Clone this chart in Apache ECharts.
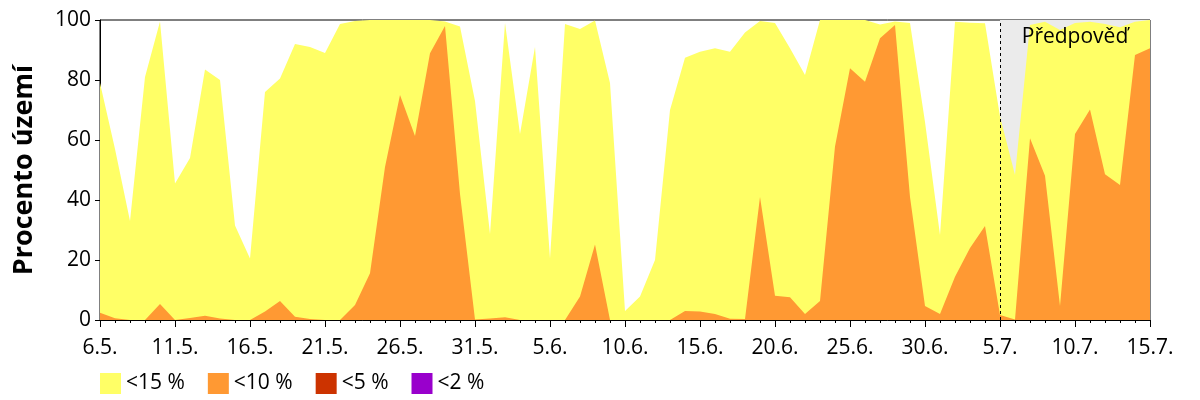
<!DOCTYPE html>
<html>
<head>
<meta charset="utf-8">
<script src="https://cdn.jsdelivr.net/npm/echarts@6/dist/echarts.min.js"></script>
<style>html,body{margin:0;padding:0;background:#fff}#c{width:1200px;height:400px}</style>
</head>
<body>
<div id="c"></div>
<script>
// Days 6.5. .. 15.7. (one per day)
const dates = [];
for (let d = 6; d <= 31; d++) dates.push(d + '.5.');
for (let d = 1; d <= 30; d++) dates.push(d + '.6.');
for (let d = 1; d <= 15; d++) dates.push(d + '.7.');

const seriesNames = ['<15 %', '<10 %', '<5 %', '<2 %'];
const seriesColors = ['#ffff66', '#ff9933', '#cc3300', '#9900cc'];

const below15 = [79, 57, 33, 81, 99.5, 45.5, 54, 83.5, 80, 31.5,
  20.5, 76, 80.5, 92, 91, 89, 98.7, 99.7, 100, 100,
  100, 100, 100, 99.5, 97.8, 73, 28.7, 99, 62, 91,
  20.5, 98.7, 97, 99.8, 79, 3, 7.8, 20, 70, 87.4,
  89.4, 90.6, 89.4, 95.8, 99.7, 99, 90.6, 81.7, 100, 100,
  100, 100, 98.5, 99.5, 99, 66, 28.3, 99.4, 99.1, 98.9,
  67.8, 48.3, 98.3, 99.4, 96.7, 99, 99.4, 98.7, 97.6, 99.4, 100];
const below10 = [2.4, 0.6, 0, 0, 5.3, 0, 0.7, 1.4, 0.5, 0,
  0, 2.8, 6.3, 1.1, 0.3, 0, 0, 5, 15.6, 51,
  75, 61.3, 88.9, 98, 42, 0.2, 0.5, 0.9, 0, 0,
  0, 0, 7.8, 25.2, 0, 0, 0, 0, 0, 3,
  2.8, 2, 0.4, 0.3, 41, 8.1, 7.6, 2, 6.3, 57.8,
  83.9, 79.4, 93.9, 98.3, 41, 4.7, 2, 14.4, 24, 31.3,
  1.7, 0.2, 60.6, 48.1, 4.7, 62, 70.2, 48.6, 45, 88.3, 90.6];
const below5 = new Array(71).fill(0);
const below2 = new Array(71).fill(0);
const values = [below15, below10, below5, below2];

const forecastStart = 60; // index of 5.7.
const forecastEnd = 70;
const forecastLabel = 'Předpověď';
const yTitle = 'Procento území';

const FONT = 'Open Sans';
const chart = echarts.init(document.getElementById('c'));

const areaSeries = values.map((arr, k) => ({
  name: seriesNames[k],
  type: 'line',
  data: arr.map((v, i) => [i, v]),
  symbol: 'none',
  lineStyle: { width: 0 },
  itemStyle: { color: seriesColors[k] },
  areaStyle: { color: seriesColors[k], opacity: 1 },
  z: 3 + k,
  animation: false
}));

chart.setOption({
  animation: false,
  grid: { left: 100, right: 50, top: 20, bottom: 80, show: true, borderColor: '#000', borderWidth: 1, backgroundColor: 'transparent' },
  legend: {
    data: seriesNames,
    left: 100, top: 373, padding: 0,
    itemWidth: 21, itemHeight: 21, itemGap: 23,
    icon: 'rect',
    textStyle: { fontFamily: FONT, fontSize: 21, color: '#000', padding: [0, 0, 0, 0] }
  },
  xAxis: {
    type: 'value', min: 0, max: 70, interval: 5,
    axisLine: { show: true, lineStyle: { color: '#000', width: 1 } },
    axisTick: { show: true, length: 7, lineStyle: { color: '#000' } },
    minorTick: { show: true, splitNumber: 5, length: 3, lineStyle: { color: '#000' } },
    splitLine: { show: false },
    axisLabel: { formatter: v => dates[v], fontFamily: FONT, fontSize: 21, color: '#000', margin: 18 }
  },
  yAxis: {
    type: 'value', min: 0, max: 100, interval: 20,
    name: yTitle, nameLocation: 'middle', nameGap: 62,
    nameTextStyle: { fontFamily: FONT, fontSize: 27, fontWeight: 'bold', color: '#000' },
    axisLine: { show: true, lineStyle: { color: '#000', width: 1 } },
    axisTick: { show: true, length: 5, lineStyle: { color: '#000' } },
    splitLine: { show: false },
    axisLabel: { fontFamily: FONT, fontSize: 21, color: '#000', margin: 9 }
  },
  series: [
    {
      type: 'line', data: [], z: 1, silent: true,
      markArea: {
        silent: true,
        itemStyle: { color: '#ebebeb' },
        label: { show: false },
        data: [[{ xAxis: forecastStart }, { xAxis: forecastEnd }]]
      }
    },
    ...areaSeries,
    {
      type: 'line', data: [], z: 20, silent: true,
      markLine: {
        silent: true, symbol: 'none',
        label: { show: false },
        lineStyle: { color: '#000', type: [3, 3], width: 1 },
        data: [{ xAxis: forecastStart }]
      }
    }
  ]
});

const p = chart.convertToPixel({ xAxisIndex: 0, yAxisIndex: 0 }, [(forecastStart + forecastEnd) / 2, 100]);
chart.setOption({
  graphic: [{
    type: 'text', z: 100,
    x: p[0], y: p[1] + 7,
    style: { text: forecastLabel, fontFamily: FONT, fontSize: 21, fill: '#000', align: 'center', verticalAlign: 'top' }
  }]
});
</script>
</body>
</html>
